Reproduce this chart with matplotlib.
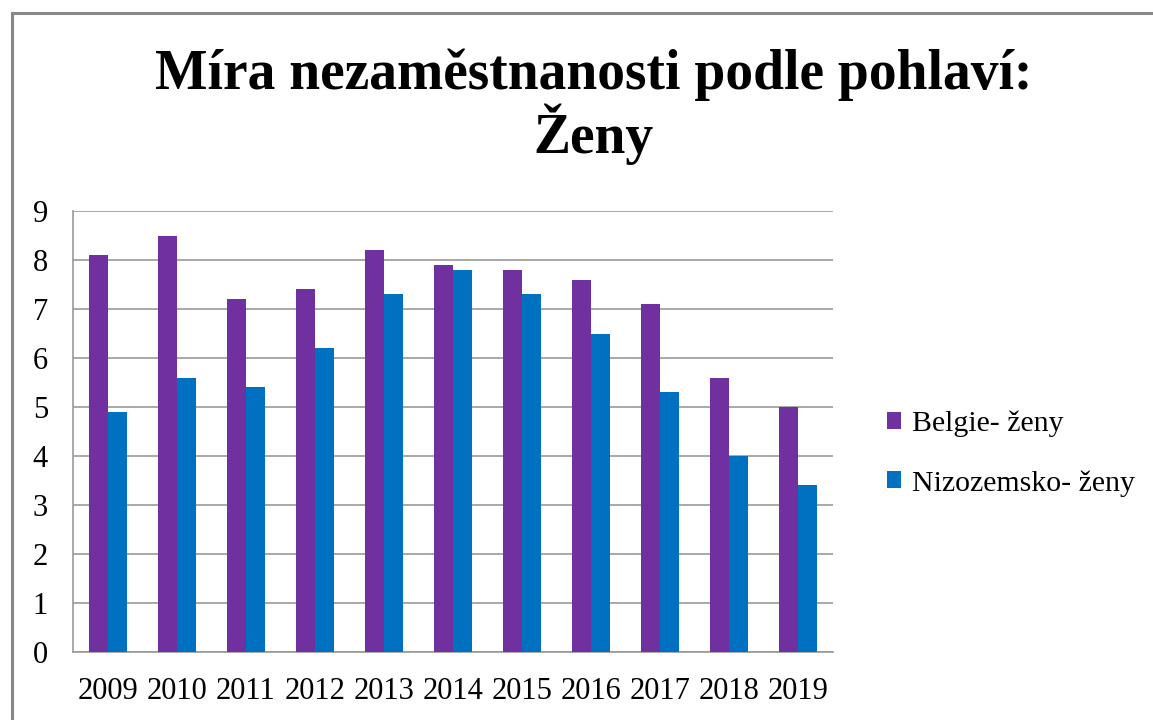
import numpy as np
import matplotlib.pyplot as plt
from matplotlib.lines import Line2D

plt.rcParams["font.family"] = ["Liberation Serif", "DejaVu Serif"]

years = ["2009", "2010", "2011", "2012", "2013", "2014", "2015", "2016", "2017", "2018", "2019"]
belgie = [8.1, 8.5, 7.2, 7.4, 8.2, 7.9, 7.8, 7.6, 7.1, 5.6, 5.0]
nizozemsko = [4.9, 5.6, 5.4, 6.2, 7.3, 7.8, 7.3, 6.5, 5.3, 4.0, 3.4]

fig = plt.figure(figsize=(11.53, 7.2), dpi=100)
ax = fig.add_axes([0.0633, 0.0944, 0.6592, 0.6125])

x = np.arange(len(years))
w = 0.275
ax.bar(x - w / 2, belgie, w, color="#7030A0", label="Belgie- ženy", zorder=3)
ax.bar(x + w / 2, nizozemsko, w, color="#0070C0", label="Nizozemsko- ženy", zorder=3)

ax.set_xlim(-0.5, len(years) - 0.5)
ax.set_ylim(0, 9)
ax.set_yticks(range(0, 10))
ax.set_xticks(x)
ax.set_xticklabels(years)
ax.tick_params(axis="both", length=0, labelsize=22)
ax.tick_params(axis="y", pad=18)
ax.tick_params(axis="x", pad=18)
ax.yaxis.grid(True, color="#999999", linewidth=1.2, zorder=0)

for s in ["top", "right"]:
    ax.spines[s].set_visible(False)
for s in ["left", "bottom"]:
    ax.spines[s].set_color("#999999")
    ax.spines[s].set_linewidth(1.2)

fig.suptitle("Míra nezaměstnanosti podle pohlaví:\nŽeny", fontsize=40, fontweight="bold",
             x=0.515, y=0.932, linespacing=1.05)

ax.legend(loc="center left", bbox_to_anchor=(1.035, 0.45), frameon=False, fontsize=21.5,
          handlelength=0.5, handleheight=0.5, handletextpad=0.35, labelspacing=1.1)

# chart frame (left and top edges)
fig.add_artist(Line2D([12 / 1153, 12 / 1153], [0, 1 - 13 / 720], color="#888888", linewidth=2.2))
fig.add_artist(Line2D([12 / 1153, 1], [1 - 13 / 720, 1 - 13 / 720], color="#888888", linewidth=2.2))

fig.savefig("out.png", dpi=100)
